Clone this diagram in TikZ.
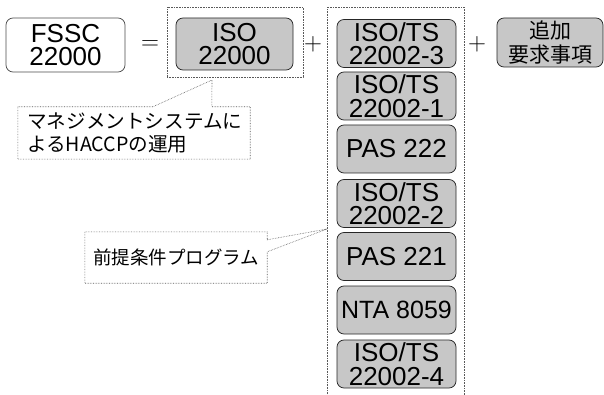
\documentclass[tikz,border=0pt]{standalone}
\usepackage{fontspec}
\setmainfont{Liberation Sans}
\newfontfamily\jp{Noto Sans CJK JP}
\begin{document}
\begin{tikzpicture}[x=1pt,y=-1pt,
  std/.style={draw=black!85, line width=0.75pt, rounded corners=7pt,
    minimum width=119pt, minimum height=48pt, inner sep=0pt, align=center,
    font=\fontsize{26}{23.5}\selectfont},
  graybox/.style={std, fill=black!22},
  frame/.style={draw=black!65, densely dotted, line width=0.6pt, inner sep=0pt},
  op/.style={font=\fontsize{32}{32}\selectfont, inner sep=0pt},
  callout/.style={draw=black!65, densely dotted, line width=0.6pt, fill=white}
]
\useasboundingbox (0,0) rectangle (604,395);

% top row: FSSC 22000 = ISO 22000 + PRPs + additional requirements
\node[std, fill=white, draw=black!70, minimum width=119pt, minimum height=54pt] (fssc) at (65.5,45) {FSSC\\22000};
\node[op] (eq) at (150,45) {$=$};
\node[frame, minimum width=136pt, minimum height=70pt] (isoframe) at (235,42) {};
\node[graybox, minimum width=117pt, minimum height=52pt] (iso) at (234.5,44) {ISO\\22000};
\node[op] (plus1) at (313,44) {$+$};

% prerequisite programme column
\node[frame, minimum width=137pt, minimum height=393pt, anchor=north west] (prp) at (327,7) {};
\node[graybox] (ts3)    at (396.5,43.5) {ISO/TS\\22002-3};
\node[graybox] (ts1)    at (396.5,96)   {ISO/TS\\22002-1};
\node[graybox] (pas222) at (396.5,149)  {PAS 222};
\node[graybox] (ts2)    at (396.5,203.5){ISO/TS\\22002-2};
\node[graybox] (pas221) at (396.5,256.5){PAS 221};
\node[graybox, font=\fontsize{25}{23.5}\selectfont] (nta) at (396.5,310) {NTA 8059};
\node[graybox] (ts4)    at (396.5,364)  {ISO/TS\\22002-4};

\node[op] (plus2) at (477,44) {$+$};
\node[graybox, minimum width=106pt, minimum height=49pt,
  font=\jp\fontsize{21}{24}\selectfont] (add) at (550,42.5) {追加\\要求事項};

% callout: management system
\coordinate (apex1) at (212,80);
\node[minimum width=232pt, minimum height=52pt, inner sep=0pt] (c1) at (134,133) {};
\draw[callout] (c1.north west) -- ([xshift=135pt]c1.north west) -- (apex1)
  -- ([xshift=194pt]c1.north west) -- (c1.north east) -- (c1.south east)
  -- (c1.south west) -- cycle;
\node[anchor=west, align=left, inner sep=0pt, font=\jp\fontsize{19.6}{23}\selectfont] (c1t) at (27,133)
  {マネジメントシステムに\\よるHACCPの運用};

% callout: prerequisite programmes
\coordinate (apex2) at (prp.west |- 0,229);
\node[minimum width=182pt, minimum height=51pt, inner sep=0pt] (c2) at (176,257.5) {};
\draw[callout] (c2.north west) -- (c2.north east) -- ([yshift=-8pt]c2.north east)
  -- (apex2) -- ([yshift=-20pt]c2.north east) -- (c2.south east)
  -- (c2.south west) -- cycle;
\node[inner sep=0pt, font=\jp\fontsize{18.5}{22}\selectfont] (c2t) at (c2.center) {前提条件プログラム};
\end{tikzpicture}
\end{document}
